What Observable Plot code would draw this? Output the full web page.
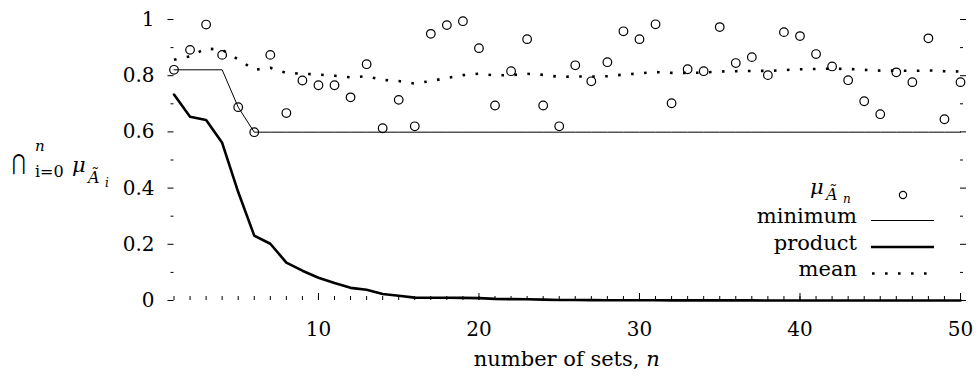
<!DOCTYPE html>
<html><head><meta charset="utf-8">
<script src="https://cdn.jsdelivr.net/npm/d3@7"></script>
<script src="https://cdn.jsdelivr.net/npm/@observablehq/plot@0.6"></script>
<style>html,body{margin:0;background:#fff}</style></head><body><div id="chart"></div>
<script>
// ---- data ----
const sets = d3.range(1, 51); // n = 1..50
const mu = [0.821,0.892,0.982,0.874,0.688,0.599,0.874,0.667,0.783,0.766,
            0.766,0.723,0.841,0.613,0.714,0.620,0.949,0.980,0.994,0.898,
            0.694,0.816,0.930,0.694,0.620,0.837,0.780,0.848,0.958,0.930,
            0.983,0.702,0.823,0.816,0.973,0.845,0.866,0.802,0.955,0.941,
            0.877,0.833,0.784,0.709,0.663,0.812,0.777,0.933,0.645,0.777];
const minimum = [0.821,0.821,0.821,0.821,0.688,0.599,0.599,0.599,0.599,0.599,
                 0.599,0.599,0.599,0.599,0.599,0.599,0.599,0.599,0.599,0.599,
                 0.599,0.599,0.599,0.599,0.599,0.599,0.599,0.599,0.599,0.599,
                 0.599,0.599,0.599,0.599,0.599,0.599,0.599,0.599,0.599,0.599,
                 0.599,0.599,0.599,0.599,0.599,0.599,0.599,0.599,0.599,0.599];
const product = [0.733,0.654,0.642,0.561,0.386,0.231,0.202,0.135,0.106,0.081,
                 0.062,0.045,0.038,0.023,0.017,0.0103,0.0098,0.0096,0.0095,0.0085,
                 0.0059,0.0048,0.0045,0.0031,0.0019,0.0016,0.0013,0.0011,0.0010,0.0009,
                 0.0009,0.0006,0.0005,0.0004,0.0004,0.0003,0.0003,0.0002,0.0002,0.0002,
                 0.0002,0.0001,0.0001,0.0001,0.0001,0.0001,0.0001,0.0001,0.0000,0.0000];
const mean = [0.857,0.869,0.897,0.892,0.858,0.821,0.828,0.810,0.807,0.804,
              0.800,0.794,0.798,0.785,0.781,0.772,0.781,0.792,0.802,0.807,
              0.801,0.802,0.807,0.803,0.796,0.797,0.797,0.798,0.804,0.808,
              0.813,0.810,0.810,0.811,0.815,0.816,0.817,0.817,0.820,0.823,
              0.824,0.825,0.824,0.821,0.818,0.818,0.817,0.819,0.816,0.815];
const xMajor = [10, 20, 30, 40, 50];
const xMinor = d3.range(1, 51);
const yMajor = [0, 0.2, 0.4, 0.6, 0.8, 1];
const yMinor = [0.1, 0.3, 0.5, 0.7, 0.9];
const yLabels = ["0", "0.2", "0.4", "0.6", "0.8", "1"];
const legendLabels = ["minimum", "product", "mean"];

const data = sets.map((n, i) => ({n, mu: mu[i], min: minimum[i], prod: product[i], mean: mean[i]}));

const FONT = "DejaVu Serif";
const W = 979, H = 376, ML = 173.5, MR = 19, MT = 19, MB = 76;
const FW = W - ML - MR, FH = H - MT - MB;

const chart = Plot.plot({
  width: W, height: H,
  marginLeft: ML, marginRight: MR, marginTop: MT, marginBottom: MB,
  style: {fontFamily: FONT, fontSize: "20px"},
  x: {domain: [1, 50]},
  y: {domain: [0, 1]},
  marks: [
    // ticks
    Plot.ruleX(xMinor, {x: d => d, insetTop: FH - 4, stroke: "#000", strokeWidth: 1}),
    Plot.ruleX(xMajor, {x: d => d, insetTop: FH - 7, stroke: "#000", strokeWidth: 1}),
    Plot.ruleY(yMajor, {y: d => d, insetLeft: -6, insetRight: FW, stroke: "#000", strokeWidth: 1}),
    Plot.ruleY(yMinor, {y: d => d, insetLeft: -3, insetRight: FW, stroke: "#000", strokeWidth: 1}),
    Plot.ruleY(yMajor, {y: d => d, insetLeft: FW, insetRight: -6, stroke: "#000", strokeWidth: 1}),
    Plot.ruleY(yMinor, {y: d => d, insetLeft: FW, insetRight: -3, stroke: "#000", strokeWidth: 1}),
    Plot.axisX({ticks: xMajor, tickSize: 0, tickPadding: 21, label: null, tickFormat: d => String(d), fontFamily: FONT, fontSize: 20}),
    Plot.axisY({ticks: yMajor, tickSize: 0, tickPadding: 19.5, label: null, tickFormat: d => yLabels[yMajor.indexOf(d)], fontFamily: FONT, fontSize: 20}),
    // series
    Plot.line(data, {x: "n", y: "min", stroke: "#000", strokeWidth: 1}),
    Plot.line(data, {x: "n", y: "prod", stroke: "#000", strokeWidth: 2.6}),
    Plot.line(data, {x: "n", y: "mean", stroke: "#000", strokeWidth: 2.6, strokeDasharray: "2.6 10.4", strokeLinecap: "butt"}),
    Plot.dot(data, {x: "n", y: "mu", r: 4.3, stroke: "#000", strokeWidth: 1.2, fill: "none"})
  ]
});
document.getElementById("chart").appendChild(chart);

const svg = d3.select(chart);
function txt(x, y, size, s, opts = {}) {
  const t = svg.append("text")
    .attr("fill", "#000")
    .attr("text-anchor", opts.anchor || "start")
    .style("font-family", FONT)
    .style("font-size", size + "px");
  if (opts.italic) t.style("font-style", "italic");
  const tf = `translate(${x},${y})` + (opts.sx ? ` scale(${opts.sx},1)` : "");
  t.attr("transform", tf).attr("x", 0).attr("y", 0);
  t.text(s);
  return t;
}

// y-axis label: ⋂_{i=0}^{n} μ_{Ã_i}
txt(12, 170, 22, "⋂", {sx: 0.75});
txt(35, 151, 15, "n", {italic: true});
txt(35, 177, 16, "i=0");
txt(72, 172, 21, "μ", {italic: true});
txt(88, 183, 16, "Ã", {italic: true});
txt(105, 187, 12, "i", {italic: true});

// x-axis label
const xl = txt(ML + FW / 2, 366, 21, "", {anchor: "middle"});
xl.append("tspan").text("number of sets, ");
xl.append("tspan").style("font-style", "italic").text("n");

// legend
const lx = 857, sx1 = 871, sx2 = 934;
txt(810, 194, 21, "μ", {italic: true});
txt(826, 200, 16, "Ã", {italic: true});
txt(843, 203, 12, "n", {italic: true});
svg.append("circle").attr("cx", 903).attr("cy", 195).attr("r", 3.6).attr("fill", "none").attr("stroke", "#000").attr("stroke-width", 1.2);
const rowsY = [223, 249.5, 276];
legendLabels.forEach((t, i) => txt(lx, rowsY[i], 21, t, {anchor: "end"}));
svg.append("line").attr("x1", sx1).attr("x2", sx2).attr("y1", 220.5).attr("y2", 220.5).attr("stroke", "#000").attr("stroke-width", 1);
svg.append("line").attr("x1", sx1).attr("x2", sx2).attr("y1", 247).attr("y2", 247).attr("stroke", "#000").attr("stroke-width", 2.6);
svg.append("line").attr("x1", sx1 + 1).attr("x2", sx2).attr("y1", 273.5).attr("y2", 273.5).attr("stroke", "#000").attr("stroke-width", 2.6).attr("stroke-dasharray", "2.6 10.4");
</script>
</body></html>
